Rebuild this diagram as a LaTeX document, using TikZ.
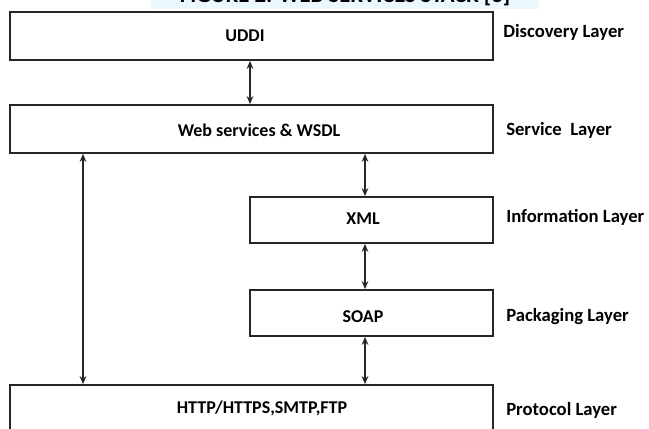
\documentclass[tikz,border=0pt]{standalone}
\usepackage{fontspec}
\setmainfont{Carlito}
\usetikzlibrary{arrows.meta}

\tikzset{
  layerbox/.style={draw=black!85, line width=1.3pt, fill=white, inner sep=0pt},
  boxtext/.style={inner sep=0pt, font=\bfseries\fontsize{13.5}{15}\selectfont},
  layername/.style={anchor=west, inner sep=0pt, font=\bfseries\fontsize{14}{16}\selectfont},
  link/.style={{Stealth[length=6pt,width=5pt]}-{Stealth[length=6pt,width=5pt]}, line width=1pt, black!85}
}

\begin{document}
\begin{tikzpicture}[x=0.75pt, y=-0.75pt]
                \useasboundingbox (0, 0) rectangle (649, 428);
                \clip (0, 0) rectangle (649, 428);
                \fill[white] (0, 0) rectangle (649, 428);

                % caption, cut off at the top edge
                \node[fill=cyan!8, anchor=south, inner xsep=22pt, inner ysep=2pt,
                  font=\bfseries\fontsize{17}{19}\selectfont] (caption) at (345, 9)
                  {FIGURE 2: WEB SERVICES STACK [3]};

                % stack boxes
                \node[layerbox, minimum width=362pt, minimum height=36pt] (uddi) at (251.5, 36) {};
                \node[layerbox, minimum width=362pt, minimum height=36pt] (wsdl) at (251.5, 129) {};
                \node[layerbox, minimum width=182pt, minimum height=34.5pt] (xml) at (371.5, 220) {};
                \node[layerbox, minimum width=182pt, minimum height=34.5pt] (soap) at (371.5, 313) {};
                \node[layerbox, minimum width=362pt, minimum height=45pt] (http) at (251.5, 415) {};

                \node[boxtext] (uddit) at (245, 36) {UDDI};
                \node[boxtext] (wsdlt) at (259, 130) {Web services \& WSDL};
                \node[boxtext] (xmlt) at (363, 219) {XML};
                \node[boxtext] (soapt) at (363, 317) {SOAP};
                \node[boxtext] (httpt) at (262, 408) {HTTP/HTTPS,SMTP,FTP};

                % layer names
                \node[layername] (discovery) at (503, 32) {Discovery Layer};
                \node[layername] (service) at (506, 130) {Service\ \ Layer};
                \node[layername] (information) at (506, 217) {Information Layer};
                \node[layername] (packaging) at (506, 317) {Packaging Layer};
                \node[layername] (protocol) at (506, 410) {Protocol Layer};

                % connectors
                \draw[link] (uddi.south -| 250, 0) -- (wsdl.north -| 250, 0);
                \draw[link] (wsdl.south -| 83, 0) -- (http.north -| 83, 0);
                \draw[link] (wsdl.south -| 365, 0) -- (xml.north -| 365, 0);
                \draw[link] (xml.south -| 365, 0) -- (soap.north -| 365, 0);
                \draw[link] (soap.south -| 365, 0) -- (http.north -| 365, 0);
            \end{tikzpicture}
\end{document}
